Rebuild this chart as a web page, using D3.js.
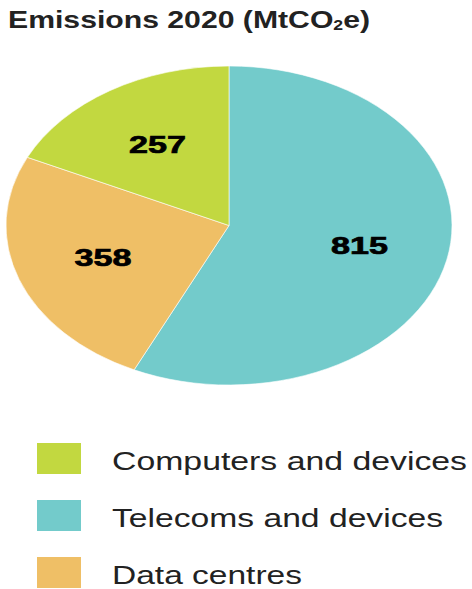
<!DOCTYPE html>
<html>
<head>
<meta charset="utf-8">
<script src="https://cdn.jsdelivr.net/npm/d3@7"></script>
<style>
  body { margin: 0; background: #fff; }
  svg { display: block; }
</style>
</head>
<body>
<div id="chart"></div>
<script>
// data (legend order)
var categories = ["Computers and devices", "Telecoms and devices", "Data centres"];
var values = [257, 815, 358];
var colors = ["#c2d840", "#73cbcb", "#efbf66"];
// order the slices go round, clockwise from 12 o'clock
var pieOrder = ["Telecoms and devices", "Data centres", "Computers and devices"];

var w = 472, h = 589;
var cx = 229, cy = 225.5;
var rx = 223, ry = 159.5;   // pie is drawn stretched into an ellipse

var svg = d3.select("#chart").append("svg")
  .attr("width", w)
  .attr("height", h);

// title
var title = svg.append("text")
  .attr("x", 8)
  .attr("y", 28)
  .attr("font-family", "'Liberation Sans', Arial, sans-serif")
  .attr("font-weight", "bold")
  .attr("font-size", "24px")
  .attr("fill", "#222")
  .attr("textLength", 362)
  .attr("lengthAdjust", "spacingAndGlyphs");
title.append("tspan").text("Emissions 2020 (MtCO");
title.append("tspan").attr("font-size", "14px").attr("dy", 2).text("2");
title.append("tspan").attr("dy", -2).text("e)");

var data = pieOrder.map(function(name) {
  var i = categories.indexOf(name);
  return { name: name, value: values[i], color: colors[i] };
});

var pie = d3.pie()
  .sort(null)
  .value(function(d) { return d.value; });

var arc = d3.arc().innerRadius(0).outerRadius(ry);
var labelArc = d3.arc().innerRadius(ry * 0.6).outerRadius(ry * 0.6);

var arcs = pie(data);

var pieG = svg.append("g")
  .attr("transform", "translate(" + cx + "," + cy + ") scale(" + (rx / ry) + ",1)");

pieG.selectAll("path")
  .data(arcs)
  .enter()
  .append("path")
  .attr("d", arc)
  .attr("fill", function(d) { return d.data.color; })
  .attr("stroke", "#fff")
  .attr("stroke-width", 0.6)
  .attr("vector-effect", "non-scaling-stroke");

// value labels
svg.selectAll("text.val")
  .data(arcs)
  .enter()
  .append("text")
  .attr("class", "val")
  .attr("x", function(d) { return cx + labelArc.centroid(d)[0] * rx / ry; })
  .attr("y", function(d) { return cy + labelArc.centroid(d)[1] + 8; })
  .attr("text-anchor", "middle")
  .attr("font-family", "'Liberation Sans', Arial, sans-serif")
  .attr("font-weight", "bold")
  .attr("font-size", "24px")
  .attr("fill", "#000")
  .attr("stroke", "#000")
  .attr("stroke-width", 0.7)
  .attr("textLength", 57)
  .attr("lengthAdjust", "spacingAndGlyphs")
  .text(function(d) { return d.data.value; });

// legend
var legendWidths = [355, 331, 190];
var legend = svg.selectAll("g.legend")
  .data(categories)
  .enter()
  .append("g")
  .attr("class", "legend")
  .attr("transform", function(d, i) { return "translate(37," + (443 + i * 57) + ")"; });

legend.append("rect")
  .attr("width", 44)
  .attr("height", 31)
  .attr("fill", function(d, i) { return colors[i]; });

legend.append("text")
  .attr("x", 75)
  .attr("y", 27)
  .attr("font-family", "'Liberation Sans', Arial, sans-serif")
  .attr("font-size", "25px")
  .attr("fill", "#222")
  .attr("textLength", function(d, i) { return legendWidths[i]; })
  .attr("lengthAdjust", "spacingAndGlyphs")
  .text(function(d) { return d; });
</script>
</body>
</html>
